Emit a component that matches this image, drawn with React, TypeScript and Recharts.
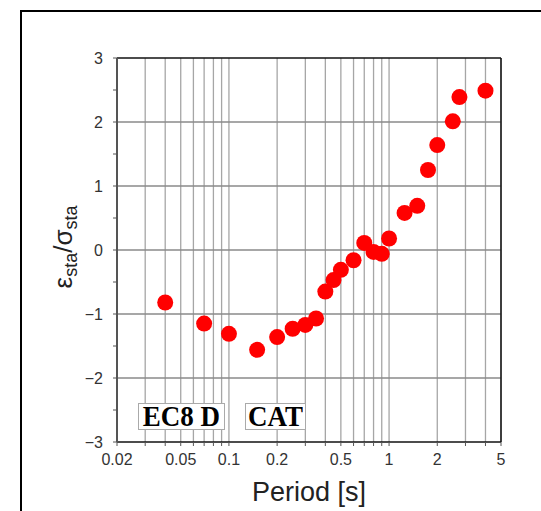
import { ReferenceLine, Scatter, ScatterChart, XAxis, YAxis } from 'recharts';

// spectral periods [s] and normalised station residuals
const periods = [0.04, 0.07, 0.1, 0.15, 0.2, 0.25, 0.3, 0.35, 0.4, 0.45, 0.5, 0.6, 0.7, 0.8, 0.9, 1.0, 1.25, 1.5, 1.75, 2.0, 2.5, 2.75, 4.0];
const residuals = [-0.82, -1.15, -1.31, -1.56, -1.36, -1.23, -1.17, -1.07, -0.65, -0.47, -0.31, -0.16, 0.11, -0.03, -0.06, 0.18, 0.58, 0.69, 1.25, 1.64, 2.01, 2.39, 2.49];

const xGrid = [
  0.02, 0.03, 0.04, 0.05, 0.06, 0.07, 0.08, 0.09,
  0.1, 0.2, 0.3, 0.4, 0.5, 0.6, 0.7, 0.8, 0.9,
  1, 2, 3, 4, 5,
];
const xTickLabels = [0.02, 0.05, 0.1, 0.2, 0.5, 1, 2, 5];
const yTicks = [-3, -2.5, -2, -1.5, -1, -0.5, 0, 0.5, 1, 1.5, 2, 2.5, 3];
const yGrid = [-2, -1, 0, 1, 2];

const data = periods.map((p, i) => ({ period: p, res: residuals[i] }));

const sans = '"Liberation Sans", Arial, Helvetica, sans-serif';
const serif = '"Liberation Serif", "Times New Roman", serif';
const tickStyle = { fontFamily: sans, fontSize: 16, fill: '#333' };

const fmtX = (v: number) => (xTickLabels.includes(v) ? String(v) : '');
const fmtY = (v: number) => (Number.isInteger(v) ? (v < 0 ? '\u2212' + Math.abs(v) : String(v)) : '');
const blank = () => '';

const Dot = (props: any) => <circle cx={props.cx} cy={props.cy} r={8} fill="#ff0000" />;

const boxStyle = {
  position: 'absolute' as const,
  top: 403,
  height: 27,
  boxSizing: 'border-box' as const,
  border: '1px solid #aaa',
  background: '#fff',
  fontFamily: serif,
  fontWeight: 700,
  fontSize: 27,
  lineHeight: '25px',
  textAlign: 'center' as const,
  color: '#000',
  whiteSpace: 'nowrap' as const,
};

const Tag = ({ left, width, text }: { left: number; width: number; text: string }) => (
  <div style={{ ...boxStyle, left, width }}>
    <span style={{ display: 'inline-block', transform: 'scaleY(1.12)' }}>{text}</span>
  </div>
);

export default function App() {
  return (
    <div style={{ position: 'absolute', left: 0, top: 0, width: 541, height: 511, overflow: 'hidden', background: '#fff' }}>
      <div style={{ position: 'absolute', left: 20, top: 10, width: 600, height: 600, border: '2px solid #000', boxSizing: 'border-box' }} />
      <div style={{ position: 'absolute', left: 0, top: 0 }}>
        <ScatterChart width={541} height={511} margin={{ top: 48, right: 30, bottom: 29, left: 57 }}>
          <XAxis
            dataKey="period"
            type="number"
            scale="log"
            domain={[0.02, 5]}
            allowDataOverflow
            ticks={xGrid}
            interval={0}
            tickFormatter={fmtX}
            tick={tickStyle}
            tickSize={4}
            tickMargin={8}
            height={40}
            axisLine={{ stroke: '#111', strokeWidth: 1.5 }}
            tickLine={{ stroke: '#555' }}
          />
          <XAxis
            xAxisId="top"
            orientation="top"
            type="number"
            scale="log"
            domain={[0.02, 5]}
            allowDataOverflow
            ticks={xGrid}
            interval={0}
            tickFormatter={blank}
            tickSize={5}
            height={10}
            axisLine={{ stroke: '#111', strokeWidth: 1.5 }}
            tickLine={{ stroke: '#999' }}
          />
          <YAxis
            dataKey="res"
            type="number"
            domain={[-3, 3]}
            allowDataOverflow
            ticks={yTicks}
            interval={0}
            tickFormatter={fmtY}
            tick={tickStyle}
            tickSize={4}
            tickMargin={10}
            width={60}
            axisLine={{ stroke: '#555', strokeWidth: 2 }}
            tickLine={{ stroke: '#555' }}
          />
          <YAxis
            yAxisId="right"
            orientation="right"
            type="number"
            domain={[-3, 3]}
            ticks={yTicks}
            interval={0}
            tickFormatter={blank}
            tickSize={4}
            width={10}
            axisLine={{ stroke: '#111', strokeWidth: 1.5 }}
            tickLine={{ stroke: '#999' }}
          />
          {xGrid.map((v) => (
            <ReferenceLine key={'x' + v} x={v} stroke="#a6a6a6" strokeWidth={1.3} />
          ))}
          {yGrid.map((v) => (
            <ReferenceLine key={'y' + v} y={v} stroke="#8a8a8a" strokeWidth={1.3} />
          ))}
          <Scatter data={data} shape={Dot} isAnimationActive={false} />
        </ScatterChart>
      </div>
      <Tag left={138} width={87} text="EC8 D" />
      <Tag left={245} width={61} text="CAT" />
      <div
        style={{
          position: 'absolute',
          left: 309,
          top: 479,
          transform: 'translateX(-50%)',
          fontFamily: sans,
          fontSize: 27,
          lineHeight: '27px',
          color: '#222',
          whiteSpace: 'nowrap',
        }}
      >
        Period [s]
      </div>
      <div
        style={{
          position: 'absolute',
          left: 67,
          top: 247,
          transform: 'translate(-50%, -50%) rotate(-90deg)',
          fontFamily: sans,
          fontSize: 26,
          lineHeight: '26px',
          color: '#222',
          whiteSpace: 'nowrap',
        }}
      >
        ε<sub style={{ fontSize: 18, verticalAlign: '-5px' }}>sta</sub>/σ
        <sub style={{ fontSize: 18, verticalAlign: '-5px' }}>sta</sub>
      </div>
    </div>
  );
}
